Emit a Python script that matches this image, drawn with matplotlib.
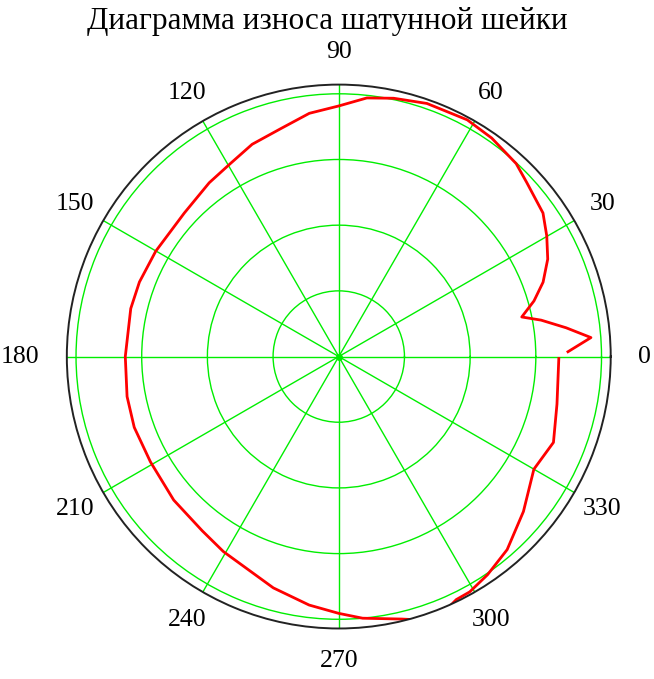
import numpy as np
import matplotlib.pyplot as plt

# wear diagram data: angle (deg) and wear value (radial units)
angle_deg = [1.2, 4.3, 7.2, 10.2, 12.2, 15.9, 20.0, 25.0, 30.1, 35.1, 42.8, 47.4,
             55.0, 61.5, 70.8, 78.0, 83.8, 90.0, 96.9, 104.3, 112.2, 119.3, 126.7,
             137.1, 150.1, 159.5, 167.0, 180.0, 190.7, 199.1, 209.2, 221.0, 231.9,
             239.4, 254.2, 263.2, 270.0, 275.2, 283.5, 288.0, 292.0, 295.8, 299.1,
             304.3, 311.1, 320.0, 330.0, 338.2, 347.7, 359.5]
wear = [3.49, 3.85, 3.49, 3.13, 2.85, 3.09, 3.31, 3.51, 3.66, 3.80, 3.90, 3.99,
        4.06, 4.10, 4.08, 4.02, 3.96, 3.815, 3.73, 3.58, 3.49, 3.37, 3.30,
        3.21, 3.215, 3.24, 3.25, 3.25, 3.28, 3.295, 3.285, 3.33, 3.37,
        3.45, 3.66, 3.81, 3.91, 4.00, 4.11, 4.22, 4.22, 4.11, 4.10,
        4.02, 3.90, 3.67, 3.43, 3.52, 3.40, 3.35]

tick_angles = [0, 30, 60, 90, 120, 150, 180, 210, 240, 270, 300, 330]
ring_values = [1, 2, 3, 4]
r_max = 4.14

plt.rcParams['font.family'] = ['Liberation Serif', 'DejaVu Serif']

fig = plt.figure(figsize=(6.54, 6.79), dpi=100)
ax = fig.add_axes([0.102, 0.0744, 0.832, 0.801], projection='polar')

theta = np.deg2rad(angle_deg)
ax.plot(theta, wear, color='#ff0000', linewidth=2.0)

ax.set_ylim(0, r_max)
ax.set_rgrids(ring_values, labels=[''] * len(ring_values))
ax.set_thetagrids(tick_angles, labels=[''] * len(tick_angles))
ax.grid(True, color='#00ee00', linewidth=1.0)
ax.spines['polar'].set_color('#222222')
ax.spines['polar'].set_linewidth(1.4)
ax.plot([0], [0], marker='o', color='#00ee00', markersize=4)

# angle labels around the circle
for a in tick_angles:
    if a == 0:
        ha, r_lab = 'left', 4.56
    elif a == 180:
        ha, r_lab = 'right', 4.56
    else:
        ha, r_lab = 'center', 4.63
    ax.text(np.deg2rad(a), r_lab, str(a), ha=ha, va='center',
            fontsize=18.5, clip_on=False)

fig.suptitle('Диаграмма износа шатунной шейки', fontsize=22.5, y=0.99)

fig.savefig('out.png', dpi=100)
